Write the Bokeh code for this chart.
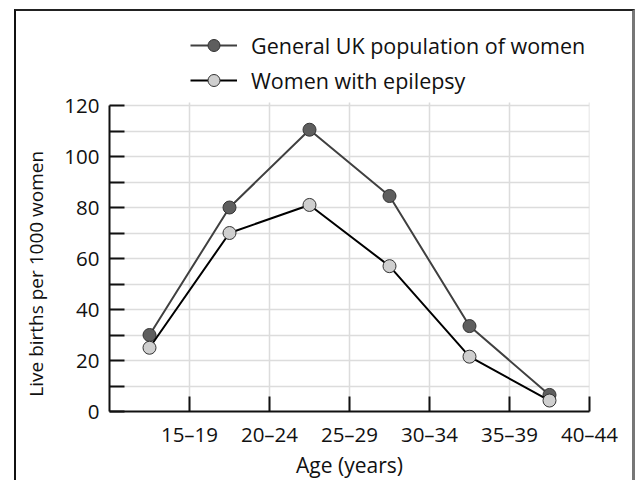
from bokeh.plotting import figure
from bokeh.models import FixedTicker, Legend, LegendItem, ColumnDataSource
from bokeh.embed import file_html
from bokeh.resources import INLINE

age_groups = ["15–19", "20–24", "25–29", "30–34", "35–39", "40–44"]
general_uk = [30, 80, 110.5, 84.5, 33.5, 6.5]
epilepsy = [25, 70, 81, 57, 21.5, 4.3]
y_major = [0, 20, 40, 60, 80, 100, 120]
y_minor = [10, 30, 50, 70, 90, 110]

FONT = "Open Sans"
idx = list(range(len(age_groups)))
xs = [i + 0.5 for i in idx]
src = ColumnDataSource(dict(x=xs, general=general_uk, epi=epilepsy))

# frame: 0..120 spans 306 px; extra room above for the legend
Y_TOP = 120 * 389 / 306

p = figure(width=621, height=471, output_backend="svg", toolbar_location=None,
           x_range=(0, len(age_groups)), y_range=(0, Y_TOP),
           min_border_left=93, min_border_top=11, min_border_right=48, min_border_bottom=71,
           styles={"position": "relative", "left": "14px", "top": "9px",
                   "border-top": "2px solid #222", "border-left": "2px solid #111",
                   "border-right": "3px solid #777"})
p.outline_line_color = None
p.background_fill_color = "white"
p.border_fill_alpha = 0

# axes
p.xaxis.ticker = FixedTicker(ticks=[i + 1 for i in idx])
p.xaxis.major_label_overrides = {i + 1: lab for i, lab in zip(idx, age_groups)}
yt = FixedTicker(ticks=y_major, minor_ticks=y_minor)
p.yaxis.ticker = yt
p.yaxis.bounds = (0, 120)
for ax in (p.xaxis[0], p.yaxis[0]):
    ax.axis_line_color = "#111"
    ax.axis_line_width = 2
    ax.major_tick_line_color = "#111"
    ax.major_tick_line_width = 2
    ax.major_tick_in = 15
    ax.major_tick_out = 0
    ax.major_label_text_font = FONT
    ax.major_label_text_font_size = "20.5px"
    ax.major_label_text_color = "#111"
    ax.axis_label_text_font = FONT
    ax.axis_label_text_font_style = "normal"
    ax.axis_label_text_color = "#111"
p.yaxis.minor_tick_line_color = "#111"
p.yaxis.minor_tick_line_width = 2
p.yaxis.minor_tick_in = 15
p.yaxis.minor_tick_out = 0
p.xaxis.minor_tick_line_color = None
p.xaxis.major_label_standoff = 8
p.yaxis.major_label_standoff = 10
p.xaxis.axis_label = "Age (years)"
# trailing no-break spaces shift the label's visible part down to sit beside the 0-120 axis
p.yaxis.axis_label = "Live births per 1000 women" + "\u00a0" * 23
p.xaxis.axis_label_text_font_size = "21px"
p.yaxis.axis_label_text_font_size = "19px"
p.xaxis.axis_label_standoff = 0
p.yaxis.axis_label_standoff = 12

# grid
p.xgrid.grid_line_color = None
p.ygrid.ticker = yt
p.ygrid.grid_line_color = "#dcdcdc"
p.ygrid.grid_line_width = 1.5
p.ygrid.minor_grid_line_color = "#dcdcdc"
p.ygrid.minor_grid_line_width = 1.5
p.segment(x0=[i + 1 for i in idx], x1=[i + 1 for i in idx],
          y0=[0] * len(idx), y1=[121.2] * len(idx),
          line_color="#dcdcdc", line_width=1.5)

l1 = p.line("x", "general", source=src, line_color="#404040", line_width=2)
s1 = p.scatter("x", "general", source=src, size=13, fill_color="#5e5e5e",
               line_color="#333", line_width=1)
l2 = p.line("x", "epi", source=src, line_color="#000", line_width=2)
s2 = p.scatter("x", "epi", source=src, size=13, fill_color="#cfcfcf",
               line_color="#333", line_width=1)

legend = Legend(items=[
    LegendItem(label="General UK population of women", renderers=[l1, s1]),
    LegendItem(label="Women with epilepsy", renderers=[l2, s2]),
], location=(81, 316))
legend.glyph_width = 47
legend.glyph_height = 30
legend.label_height = 30
legend.spacing = 5
legend.padding = 0
legend.margin = 0
legend.label_standoff = 14
legend.border_line_color = None
legend.background_fill_alpha = 0
legend.label_text_font = FONT
legend.label_text_font_size = "21.5px"
legend.label_text_color = "#111"
p.add_layout(legend, "center")

open("out.html", "w").write(file_html(p, INLINE))
